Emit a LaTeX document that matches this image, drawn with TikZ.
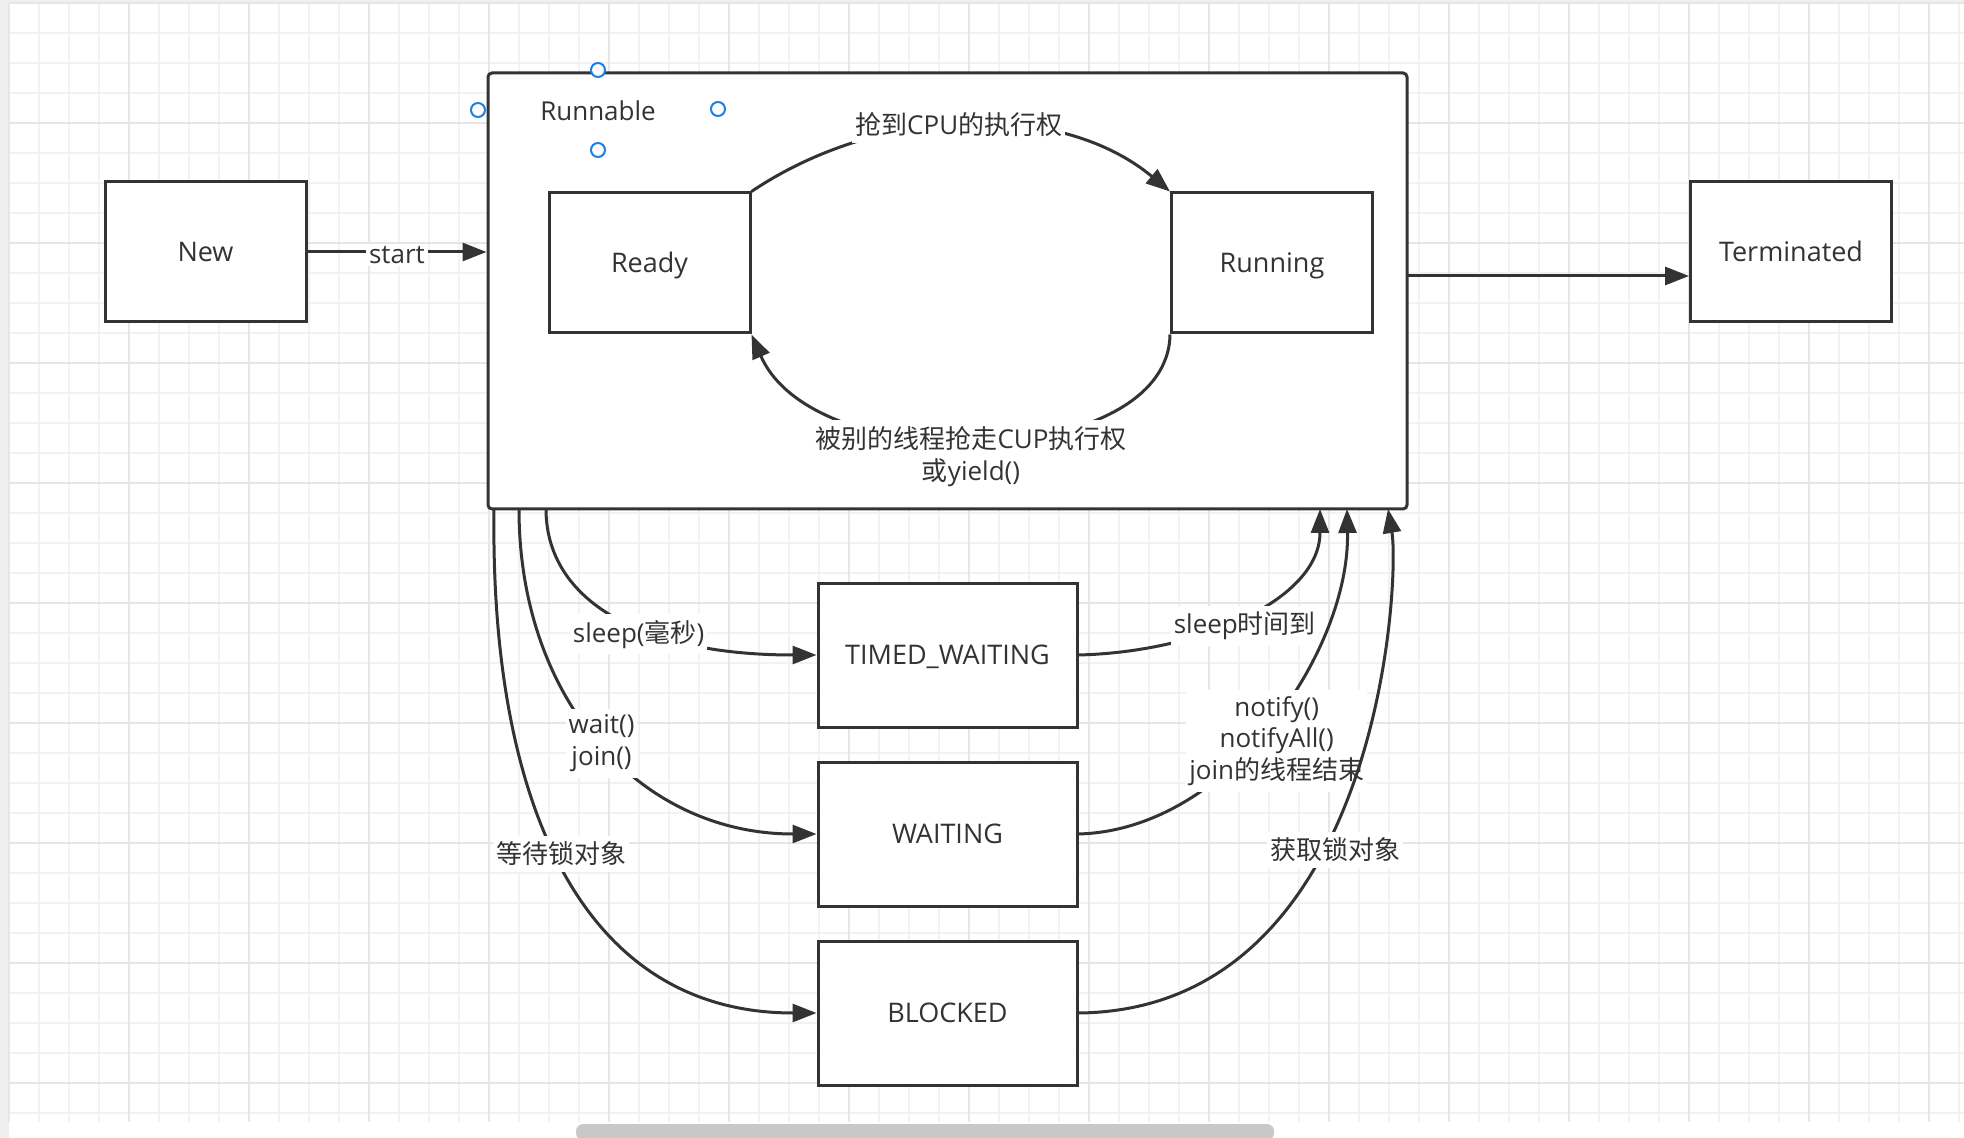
\documentclass[tikz,border=0pt]{standalone}
\usepackage{fontspec}
\setmainfont{Open Sans}
\newfontfamily\cjk{Noto Sans CJK SC}
\usetikzlibrary{arrows.meta,calc}
\definecolor{ink}{HTML}{333333}
\definecolor{gridmin}{HTML}{F2F2F2}
\definecolor{gridmaj}{HTML}{E6E6E6}
\definecolor{handle}{HTML}{1E7FE6}
\definecolor{scrollc}{HTML}{C8C8C8}
\definecolor{edgebg}{HTML}{EFEFEF}
\begin{document}
\begin{tikzpicture}[x=0.5pt,y=-0.5pt,
  statebox/.style={draw=ink, line width=1.5pt, fill=white, inner sep=0pt, text=ink,
    minimum width=100.5pt, minimum height=70pt, text height=9.6pt, text depth=0pt,
    font=\fontsize{13.5}{16}\selectfont},
  lowbox/.style={statebox, minimum width=129.5pt, minimum height=72pt},
  conn/.style={draw=ink, line width=1.5pt, -{Triangle[length=12pt,width=9pt]}},
  lbl/.style={fill=white, inner xsep=1.5pt, inner ysep=3pt, text=ink, align=center, font=\fontsize{13}{15.8}\selectfont},
  hdl/.style={circle, draw=handle, line width=1pt, fill=white, minimum size=7pt, inner sep=0pt}]
\useasboundingbox (0,0) rectangle (1964,1138);
% background and grid
\fill[white] (0,0) rectangle (1964,1138);
\fill[edgebg] (0,0) rectangle (9,1138);
\fill[edgebg] (0,0) rectangle (1964,3);
\foreach \x in {39,69,...,1964} \draw[gridmin, line width=0.6pt] (\x,3) -- (\x,1122);
\foreach \y in {33,63,...,1122} \draw[gridmin, line width=0.6pt] (9,\y) -- (1964,\y);
\foreach \x in {9,129,...,1964} \draw[gridmaj, line width=1pt] (\x,3) -- (\x,1122);
\foreach \y in {3,123,...,1122} \draw[gridmaj, line width=1pt] (9,\y) -- (1964,\y);
\fill[scrollc, rounded corners=3.5pt] (576,1124) rectangle (1274,1140);
% nodes
\node[statebox] (new) at (205.5,252) {New};
\node[draw=ink, line width=1.5pt, fill=white, rounded corners=2pt, inner sep=0pt,
  minimum width=459.5pt, minimum height=218pt] (runnable) at (947.5,291) {};
\node[text=ink, font=\fontsize{13}{16}\selectfont] (rlabel) at (598,111) {Runnable};
\node[hdl] (h1) at (598,70) {};
\node[hdl] (h2) at (478,110) {};
\node[hdl] (h3) at (718,109) {};
\node[hdl] (h4) at (598,150) {};
\node[statebox] (ready) at (649.5,263) {Ready};
\node[statebox] (running) at (1272,263) {Running};
\node[statebox] (term) at (1791,252) {Terminated};
\node[lowbox] (tw) at (947.5,655) {TIMED\_WAITING};
\node[lowbox] (w) at (947.5,834) {WAITING};
\node[lowbox] (b) at (947.5,1013) {BLOCKED};
% coordinates on the Runnable border
\coordinate (rexit) at (1408,276);
\coordinate (s1) at (546,509);
\coordinate (s2) at (519,509);
\coordinate (s3) at (494,509);
\coordinate (e1) at (1320,509);
\coordinate (e2) at (1347,509);
\coordinate (e3) at (1388,509);
% connectors
\draw[conn] (new.east) -- (new.east -| runnable.west) node[lbl, midway, inner ysep=1pt, yshift=-1.5pt] (lstart) {start};
\draw[conn] (rexit) -- (rexit -| term.west);
\draw[conn] (ready.north east) .. controls (880,105) and (1060,100) .. (running.north west)
  node[lbl, pos=0.48] (l1) {{\cjk 抢到}CPU{\cjk 的执行权}};
\draw[conn] (running.south west) .. controls (1168,470) and (815,480) .. (ready.south east)
  node[lbl, pos=0.5, xshift=-6.4pt, yshift=-8.25pt] (l2) {{\cjk 被别的线程抢走}CUP{\cjk 执行权}\\{\cjk 或}yield()};
\draw[conn] (s1) .. controls (546,600) and (640,655) .. (tw.west)
  node[lbl, pos=0.58, yshift=-3.5pt] (l3) {sleep({\cjk 毫秒})};
\draw[conn] (s2) .. controls (519,700) and (640,834) .. (w.west)
  node[lbl, pos=0.5] (l4) {wait()\\join()};
\draw[conn] (s3) .. controls (490,800) and (580,1013) .. (b.west)
  node[lbl, pos=0.47, xshift=2.5pt] (l5) {{\cjk 等待锁对象}};
\draw[conn] (tw.east) .. controls (1200,652) and (1320,600) .. (e1)
  node[lbl, pos=0.5, yshift=-5.5pt] (l6) {sleep{\cjk 时间到}};
\draw[conn] (w.east) .. controls (1230,830) and (1350,650) .. (e2)
  node[lbl, pos=0.5, xshift=3pt, yshift=-9pt] (l7) {notify()\\notifyAll()\\join{\cjk 的线程结束}};
\draw[conn] (b.east) .. controls (1380,1010) and (1400,580) .. (e3)
  node[lbl, pos=0.4, xshift=7pt, yshift=2.5pt] (l8) {{\cjk 获取锁对象}};
\end{tikzpicture}
\end{document}
